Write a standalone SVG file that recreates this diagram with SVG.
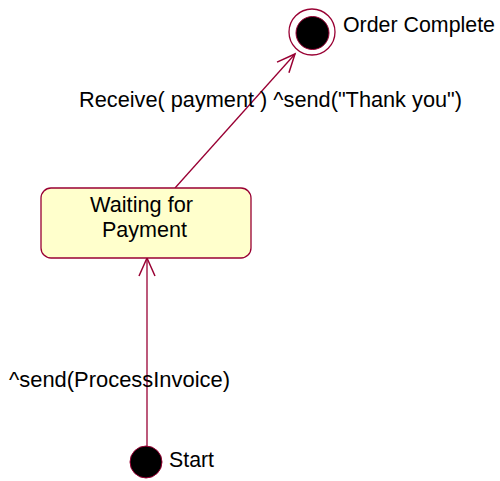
<svg xmlns="http://www.w3.org/2000/svg" width="500" height="481" viewBox="0 0 500 481">
<style>
text{font-family:"Liberation Sans",Arial,sans-serif;font-size:22px;fill:#000}
.edge{stroke:#990033;stroke-width:1.3;fill:none}
.state{fill:#FFFFCC;stroke:#990033;stroke-width:1.3}
.dot{fill:#000;stroke:#990033;stroke-width:1}
</style>
<defs>
<marker id="open" markerWidth="22" markerHeight="20" refX="19" refY="9" orient="auto" markerUnits="userSpaceOnUse">
<path d="M1,1 L19,9 L1,17" fill="none" stroke="#990033" stroke-width="1.5"/>
</marker>
</defs>
<rect width="500" height="481" fill="#fff"/>
<g id="connectors">
<line class="edge" x1="175" y1="188" x2="295" y2="54" marker-end="url(#open)"/>
<text x="79" y="106.5" textLength="383" lengthAdjust="spacingAndGlyphs">Receive( payment ) ^send("Thank you")</text>
<line class="edge" x1="147" y1="446" x2="147" y2="258" marker-end="url(#open)"/>
<text x="9" y="386.5" textLength="221" lengthAdjust="spacingAndGlyphs">^send(ProcessInvoice)</text>
</g>
<g id="final">
<circle cx="312" cy="32" r="23" fill="#fff" stroke="#990033" stroke-width="1.3"/>
<circle class="dot" cx="312.5" cy="33" r="16.5"/>
<text x="343" y="31.5" textLength="152" lengthAdjust="spacingAndGlyphs">Order Complete</text>
</g>
<g id="waiting">
<rect class="state" x="41" y="188" width="210" height="70" rx="10" ry="10"/>
<text x="90" y="212" textLength="103" lengthAdjust="spacingAndGlyphs">Waiting for</text>
<text x="102" y="237" textLength="85" lengthAdjust="spacingAndGlyphs">Payment</text>
</g>
<g id="start">
<circle class="dot" cx="146" cy="462" r="16"/>
<text x="169" y="466.5" textLength="45" lengthAdjust="spacingAndGlyphs">Start</text>
</g>
</svg>
